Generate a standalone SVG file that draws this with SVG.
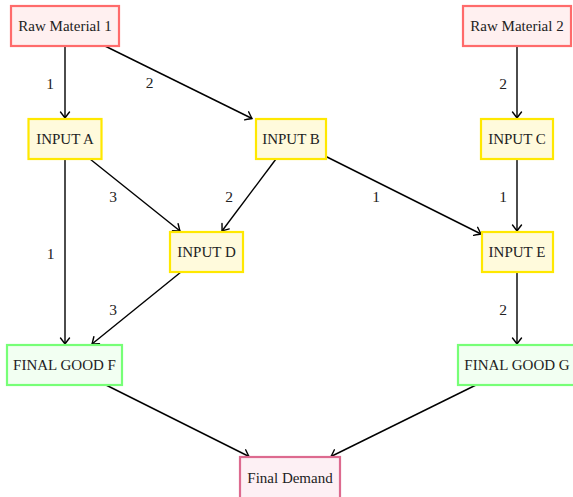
<svg xmlns="http://www.w3.org/2000/svg" width="573" height="497" viewBox="0 0 573 497">
<style>
text{font-family:"Liberation Serif","DejaVu Serif",serif;font-size:15px;fill:#222;text-anchor:middle;dominant-baseline:central}
.raw rect{fill:#fff0f0;stroke:#ff6b6b;stroke-width:2.2}
.inp rect{fill:#fffadc;stroke:#ffe800;stroke-width:2.2}
.fin rect{fill:#f2fff2;stroke:#77ff77;stroke-width:2.2}
.dem rect{fill:#fdf0f4;stroke:#dd6a8f;stroke-width:2.2}
.edge{stroke:#000;stroke-width:1.4;fill:none;marker-end:url(#arr)}
.lbl{font-size:15.5px}
</style>
<defs>
<marker id="arr" markerUnits="userSpaceOnUse" viewBox="-8 -6 10 12" refX="0" refY="0" markerWidth="10" markerHeight="12" orient="auto">
<path d="M-6,-4.5 Q-1.5,-1 0,0 Q-1.5,1 -6,4.5" fill="none" stroke="#000" stroke-width="1.4" stroke-linecap="round"/>
</marker>
</defs>
<rect width="573" height="497" fill="#fff"/>
<g id="connectors">
<line class="edge" x1="65" y1="46" x2="65" y2="118"/>
<line class="edge" x1="105" y1="46" x2="252" y2="118.5"/>
<line class="edge" x1="517" y1="46" x2="517" y2="118"/>
<line class="edge" x1="90" y1="159" x2="180" y2="231"/>
<line class="edge" x1="276" y1="159" x2="222" y2="231"/>
<line class="edge" x1="65" y1="159" x2="65" y2="344"/>
<line class="edge" x1="326" y1="156.5" x2="481" y2="234"/>
<line class="edge" x1="517" y1="159" x2="517" y2="231"/>
<line class="edge" x1="181" y1="272" x2="92" y2="344"/>
<line class="edge" x1="517" y1="272" x2="517" y2="344"/>
<line class="edge" x1="106" y1="385" x2="249" y2="456.5"/>
<line class="edge" x1="476" y1="385" x2="331" y2="456.5"/>
<text class="lbl" x="50" y="83">1</text>
<text class="lbl" x="149.5" y="82">2</text>
<text class="lbl" x="503" y="83">2</text>
<text class="lbl" x="113" y="196">3</text>
<text class="lbl" x="229" y="196">2</text>
<text class="lbl" x="50.5" y="253">1</text>
<text class="lbl" x="376" y="196">1</text>
<text class="lbl" x="503" y="196">1</text>
<text class="lbl" x="113" y="309">3</text>
<text class="lbl" x="503" y="309">2</text>
</g>
<g id="rm1" class="raw"><rect x="11" y="6" width="108" height="40"/><text x="65" y="26">Raw Material 1</text></g>
<g id="rm2" class="raw"><rect x="463" y="6" width="108" height="40"/><text x="517" y="26">Raw Material 2</text></g>
<g id="inputA" class="inp"><rect x="28.5" y="119" width="73" height="40"/><text x="65" y="139">INPUT A</text></g>
<g id="inputB" class="inp"><rect x="256" y="119" width="70" height="40"/><text x="291" y="139">INPUT B</text></g>
<g id="inputC" class="inp"><rect x="481" y="119" width="72" height="40"/><text x="517" y="139">INPUT C</text></g>
<g id="inputD" class="inp"><rect x="170" y="232" width="73" height="40"/><text x="206.5" y="252">INPUT D</text></g>
<g id="inputE" class="inp"><rect x="482" y="232" width="71" height="40"/><text x="517" y="252">INPUT E</text></g>
<g id="finalF" class="fin"><rect x="7" y="345" width="115" height="40"/><text x="64.5" y="365">FINAL GOOD F</text></g>
<g id="finalG" class="fin"><rect x="458" y="345" width="118" height="40"/><text x="517" y="365">FINAL GOOD G</text></g>
<g id="demand" class="dem"><rect x="240" y="457" width="100" height="42"/><text x="290" y="478">Final Demand</text></g>
</svg>
